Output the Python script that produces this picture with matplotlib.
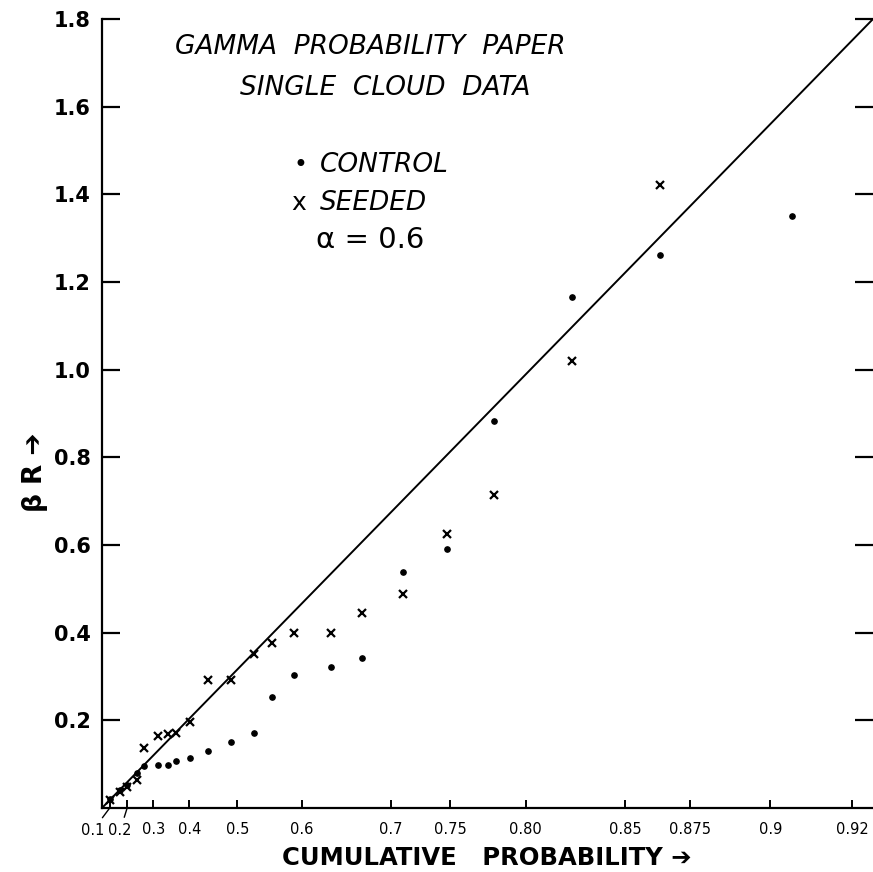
import math
import matplotlib
matplotlib.use("Agg")
import matplotlib.pyplot as plt

# shape parameter of the gamma paper
ALPHA = 0.6

# cumulative probability ticks along the bottom axis
prob_ticks = [0.1, 0.2, 0.3, 0.4, 0.5, 0.6, 0.7, 0.75, 0.80, 0.85, 0.875, 0.9, 0.92]
prob_labels = ["0.1", "0.2", "0.3", "0.4", "0.5", "0.6", "0.7", "0.75", "0.80",
               "0.85", "0.875", "0.9", "0.92"]

# plotting positions (gamma quantile, beta*R units) and observed beta*R
control_q = [0.019, 0.042, 0.058, 0.082, 0.098, 0.131, 0.154, 0.173, 0.205, 0.247,
             0.301, 0.355, 0.397, 0.448, 0.535, 0.607, 0.703, 0.806, 0.915, 1.097,
             1.303, 1.611]
control_br = [0.020, 0.041, 0.052, 0.080, 0.096, 0.099, 0.099, 0.108, 0.114, 0.131,
              0.151, 0.172, 0.253, 0.303, 0.322, 0.343, 0.539, 0.590, 0.884, 1.166,
              1.261, 1.350]

seeded_q = [0.019, 0.042, 0.058, 0.082, 0.098, 0.131, 0.154, 0.173, 0.205, 0.247,
            0.301, 0.355, 0.397, 0.448, 0.535, 0.607, 0.703, 0.806, 0.915, 1.097,
            1.303]
seeded_br = [0.018, 0.037, 0.049, 0.064, 0.136, 0.164, 0.168, 0.172, 0.197, 0.292,
             0.292, 0.351, 0.376, 0.400, 0.400, 0.445, 0.489, 0.625, 0.713, 1.019,
             1.421]


def gamma_cdf(x, a):
    # regularized lower incomplete gamma by series expansion
    if x <= 0:
        return 0.0
    term = 1.0 / a
    total = term
    n = 1
    while term > 1e-14 * total:
        term *= x / (a + n)
        total += term
        n += 1
    return total * math.exp(-x + a * math.log(x)) / math.gamma(a)


def gamma_ppf(p, a):
    lo, hi = 1e-12, 30.0
    for _ in range(200):
        mid = 0.5 * (lo + hi)
        if gamma_cdf(mid, a) < p:
            lo = mid
        else:
            hi = mid
    return 0.5 * (lo + hi)


tick_pos = [gamma_ppf(p, ALPHA) for p in prob_ticks]

fig = plt.figure(figsize=(8.73, 8.72), dpi=100)
ax = fig.add_axes([0.1168, 0.0734, 0.8832, 0.9048])

ax.plot([0, 1.8], [0, 1.8], color="black", lw=1.4)
ax.plot(control_q, control_br, linestyle="none", marker="o", ms=3.8,
        color="black", clip_on=False)
ax.plot(seeded_q, seeded_br, linestyle="none", marker="x", ms=6, mew=1.6,
        color="black", clip_on=False)

ax.set_xlim(0, 1.8)
ax.set_ylim(0, 1.8)

for side in ("top", "right"):
    ax.spines[side].set_visible(False)
for side in ("left", "bottom"):
    ax.spines[side].set_linewidth(1.6)

ax.set_yticks([0.2, 0.4, 0.6, 0.8, 1.0, 1.2, 1.4, 1.6, 1.8])
ax.set_yticklabels(["0.2", "0.4", "0.6", "0.8", "1.0", "1.2", "1.4", "1.6", "1.8"],
                   fontsize=15, fontweight="bold")
ax.tick_params(axis="y", direction="in", length=13, width=1.6, pad=8,
               left=True, right=True)

ax.set_xticks(tick_pos)
# the two lowest ticks are too crowded, their labels get leader lines
ax.set_xticklabels([""] * 2 + prob_labels[2:], fontsize=10.5)
ax.tick_params(axis="x", direction="in", length=6, width=1.4, pad=10)

for pos, lab, dx in zip(tick_pos[:2], prob_labels[:2], (-12, -5)):
    ax.annotate(lab, xy=(pos, 0), xytext=(dx, -16), textcoords="offset points",
                ha="center", va="center", fontsize=10.5,
                arrowprops=dict(arrowstyle="-", lw=1.0, shrinkA=2, shrinkB=0),
                annotation_clip=False)

ital = dict(transform=ax.transAxes, fontsize=19, style="italic",
            family="DejaVu Sans", color="black")
ax.text(0.348, 0.9645, "GAMMA  PROBABILITY  PAPER", ha="center", va="center", **ital)
ax.text(0.367, 0.9125, "SINGLE  CLOUD  DATA", ha="center", va="center", **ital)
ax.text(0.257, 0.815, "•", ha="center", va="center", transform=ax.transAxes,
        fontsize=17)
ax.text(0.283, 0.815, "CONTROL", ha="left", va="center", **ital)
ax.text(0.255, 0.767, "x", ha="center", va="center", transform=ax.transAxes,
        fontsize=18)
ax.text(0.283, 0.767, "SEEDED", ha="left", va="center", **ital)
ax.text(0.348, 0.72, "α = 0.6", ha="center", va="center",
        transform=ax.transAxes, fontsize=21)

fig.text(0.558, 0.016, "CUMULATIVE   PROBABILITY ➔", ha="center", va="center",
         fontsize=17.5, fontweight="bold", family=["DejaVu Sans"])
fig.text(0.040, 0.458, "β R ➔", ha="center", va="center", rotation=90,
         fontsize=19, fontweight="bold", family=["DejaVu Sans"])

fig.savefig("out.png", dpi=100)
